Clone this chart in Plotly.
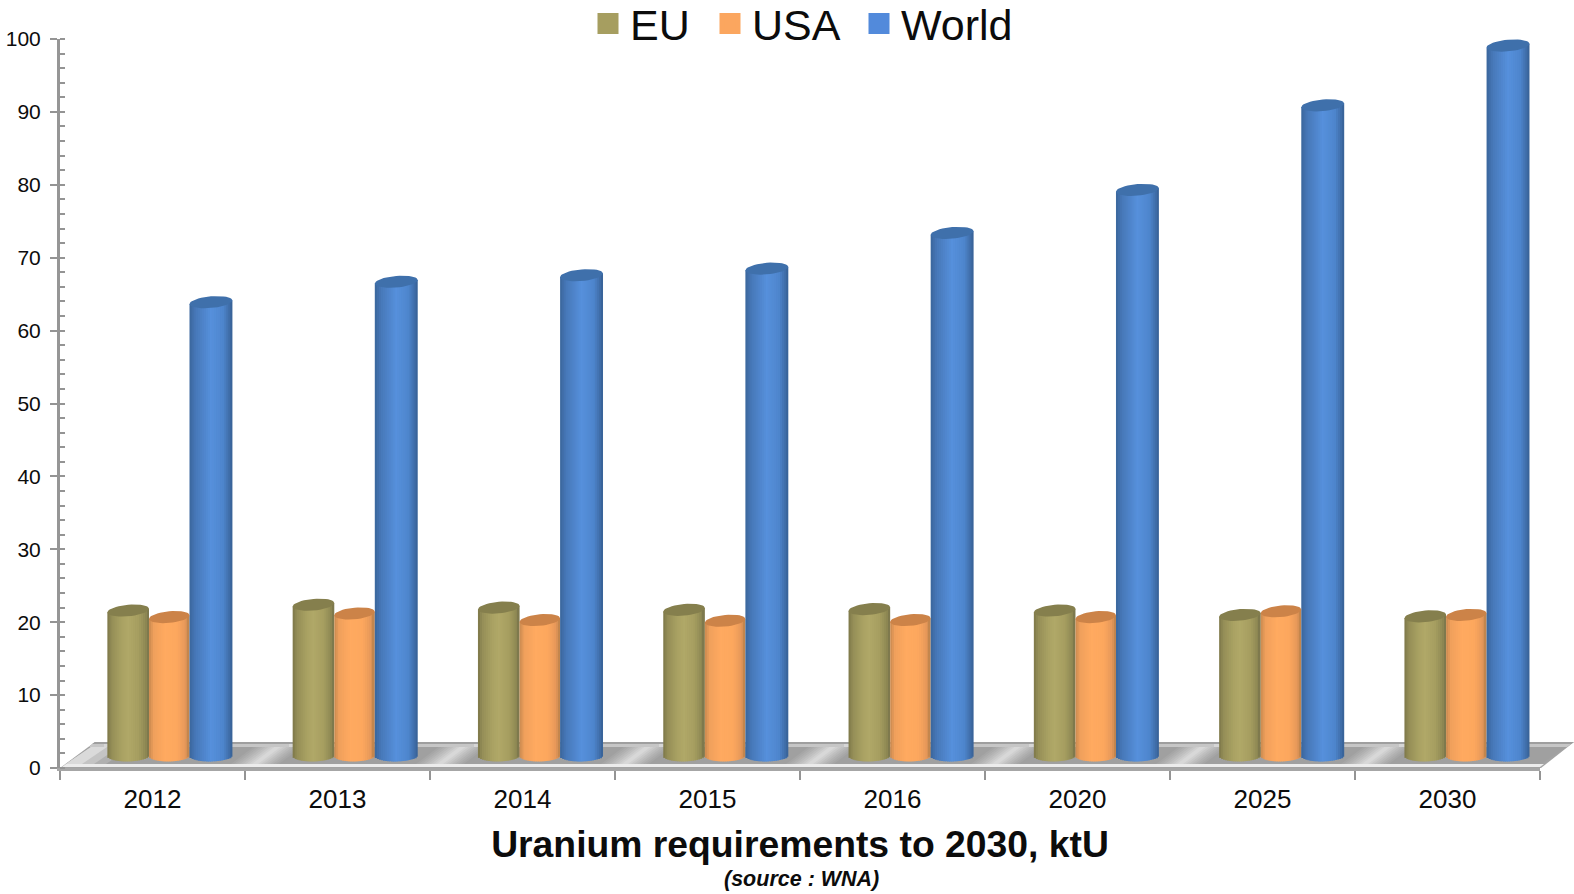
import numpy as np
import plotly.graph_objects as go

# Uranium requirements, ktU
years = ["2012", "2013", "2014", "2015", "2016", "2020", "2025", "2030"]
eu = [21.6, 22.4, 22.0, 21.7, 21.8, 21.6, 21.0, 20.8]
usa = [20.7, 21.2, 20.3, 20.2, 20.3, 20.7, 21.5, 21.0]
world = [63.9, 66.7, 67.6, 68.5, 73.4, 79.3, 90.9, 99.1]

# Plot frame in pixels
FIG_W, FIG_H = 1574, 894
LEFT, RIGHT_EDGE, TOP, ZERO = 60, 1540, 39, 768
PX_X = (RIGHT_EDGE - LEFT) / len(years)
PX_Y = (ZERO - TOP) / 100

FONT = "Liberation Sans"
INK = "#0c0c0c"

# Cylinder styling: gradient stops run from the left edge to the right edge
series = [
    dict(name="EU", values=eu, start=-0.244, width=0.225, legend_color="#a69e60", cap="#857f4d", legend_x=598,
         stops=[(0, "#7c7748"), (.1, "#948d57"), (.35, "#aaa263"), (.5, "#b0a868"), (.75, "#a59d60"),
                (.92, "#8e8853"), (1, "#77724a")]),
    dict(name="USA", values=usa, start=-0.019, width=0.219, legend_color="#fba65f", cap="#cc8348", legend_x=720,
         stops=[(0, "#c98a50"), (.12, "#f0a05c"), (.4, "#ffaa60"), (.7, "#fca75e"), (.9, "#e6985a"),
                (1, "#b98049")]),
    dict(name="World", values=world, start=0.2, width=0.232, legend_color="#528adb", cap="#3f70ab", legend_x=869,
         stops=[(0, "#3a669b"), (.14, "#4778b8"), (.5, "#5690dc"), (.78, "#4e86cd"), (.93, "#3f6da8"),
                (1, "#365f93")]),
]

STRIPS = 21
FLOOR_LEVEL = 1.7      # axis value where the cylinders stand
CAP_MINOR_PX = 5.8     # half height of the elliptical ends
CAP_TILT_PX = 1.8      # rise of the ellipse towards its right end
SPREAD = 1.0016        # cylinders fan out slightly towards the far end


def mix(stops, t):
    pos = [s[0] for s in stops]
    rgb = [[int(s[1][i:i + 2], 16) for i in (1, 3, 5)] for s in stops]
    vals = [float(np.interp(t, pos, [c[k] for c in rgb])) for k in range(3)]
    return "rgb(%d,%d,%d)" % tuple(round(v) for v in vals)


fig = go.Figure()
centers = np.arange(len(years))
bar_x = centers * SPREAD

# Each cylinder body is a stack of narrow bars that carry the horizontal shading
for s in series:
    step = s["width"] / STRIPS
    values = np.array(s["values"])
    for i in range(STRIPS):
        t = (i + 0.5) / STRIPS
        u = 2 * t - 1
        top = values + CAP_TILT_PX * u / PX_Y
        base = FLOOR_LEVEL - (CAP_MINOR_PX * np.sqrt(1 - u * u) - CAP_TILT_PX * u * 0.3) / PX_Y
        seam = step * 0.5 if i < STRIPS - 1 else 0
        fig.add_trace(go.Bar(
            x=bar_x, y=top - base, base=base,
            offset=s["start"] + i * step, width=step + seam,
            marker=dict(color=mix(s["stops"], t), line=dict(width=0)),
            showlegend=False, hoverinfo="skip",
        ))

# Darker elliptical tops
theta = np.linspace(0, 2 * np.pi, 41)
for s in series:
    a = s["width"] / 2
    xs, ys = [], []
    for c, v in zip(bar_x, s["values"]):
        xs += list(c + s["start"] + a + a * np.cos(theta)) + [None]
        ys += list(v + (CAP_MINOR_PX * np.sin(theta) + CAP_TILT_PX * np.cos(theta)) / PX_Y) + [None]
    fig.add_trace(go.Scatter(
        x=xs, y=ys, mode="lines", fill="toself", fillcolor=s["cap"],
        line=dict(width=0, color=s["cap"]), showlegend=False, hoverinfo="skip",
    ))

# One legend per series so that each entry sits at its own position
layout_legends = {}
for k, s in enumerate(series):
    key = "legend" if k == 0 else f"legend{k + 1}"
    fig.add_trace(go.Scatter(
        x=[None], y=[None], mode="markers", name=s["name"], legend=key,
        marker=dict(symbol="square", size=16, color=s["legend_color"],
                    line=dict(width=5, color=s["legend_color"])),
    ))
    layout_legends[key] = dict(
        x=(s["legend_x"] - 12 - LEFT) / (RIGHT_EDGE - LEFT), xanchor="left",
        y=(ZERO + 11) / (ZERO - TOP), yanchor="top",
        orientation="h", bgcolor="rgba(0,0,0,0)", borderwidth=0, itemsizing="trace", itemwidth=34,
        font=dict(family=FONT, size=43, color=INK),
    )


# Floor panel, described in pixels and converted to paper fractions
def px(x, y):
    return (x - LEFT) / (RIGHT_EDGE - LEFT), (ZERO - y) / (ZERO - TOP)


def quad(points, color):
    path = "M" + " L".join("%.5f,%.5f" % px(*p) for p in points) + " Z"
    return dict(type="path", path=path, xref="paper", yref="paper", layer="below",
                fillcolor=color, line=dict(width=0))


def floor_x(front_x, y):
    return front_x + (767 - y) * 33 / 25


shapes = [
    quad([(60, 768), (95, 742), (1574, 742), (1541, 768)], "#a3a3a3"),
    quad([(68, 764), (92, 746), (1568, 746), (1541, 764)], "#a0a0a0"),
    quad([(92, 744), (95, 742), (1574, 742), (1571, 744)], "#9f9f9f"),
    quad([(89, 747), (92, 744), (1571, 744), (1567, 747)], "#c6c6c6"),
    quad([(62, 767), (66, 764), (1544, 764), (1540, 767)], "#ececec"),
]
# Diagonal sheen repeated under every category, with a glint on the back rim
sheen = [(24, "#a6a6a6"), (21, "#acacac"), (18, "#b2b2b2"), (15, "#b9b9b9"),
         (12, "#c0c0c0"), (9, "#c8c8c8"), (6, "#d0d0d0"), (3, "#d8d8d8")]
for c in range(1, len(years)):
    left = LEFT + c * PX_X
    for half, col in sheen:
        x0, x1 = left + 6 - half, left + 6 + half
        shapes.append(quad([(floor_x(x0, 764), 764), (floor_x(x0, 747), 747),
                            (floor_x(x1, 747), 747), (floor_x(x1, 764), 764)], col))
# The front-left corner of the panel catches the light as well
for inset, col in [(40, "#b0b0b0"), (28, "#c4c4c4"), (16, "#dadada")]:
    shapes.append(quad([(66, 764), (91, 747), (91 + inset, 747), (66 + inset, 764)], col))
for c in range(len(years)):
    for half, col in [(26, "#d6d6d6"), (15, "#e6e6e6"), (7, "#f4f4f4")]:
        cx = LEFT + c * PX_X + 70
        shapes.append(quad([(cx - half, 747), (cx - half, 744), (cx + half, 744), (cx + half, 747)], col))

annotations = [dict(
    text="(source : WNA)", xref="paper", yref="paper",
    x=(801 - LEFT) / (RIGHT_EDGE - LEFT), y=(ZERO - 879) / (ZERO - TOP),
    xanchor="center", yanchor="middle", showarrow=False,
    font=dict(family=FONT, size=21.5, color=INK, weight=700, style="italic"),
)]

boundaries = [c - 0.5 for c in range(len(years) + 1)]

fig.update_layout(
    width=FIG_W, height=FIG_H,
    margin=dict(l=LEFT, r=FIG_W - RIGHT_EDGE, t=TOP, b=FIG_H - ZERO, autoexpand=False),
    paper_bgcolor="white", plot_bgcolor="white",
    barmode="overlay",
    shapes=shapes, annotations=annotations,
    xaxis=dict(
        range=[-0.5, len(years) - 0.5], showgrid=False, zeroline=False,
        tickmode="array", tickvals=list(centers), ticktext=years, ticks="",
        ticklabelstandoff=6,
        tickfont=dict(family=FONT, size=26, color=INK),
        showline=True, linecolor="#a6a6a6", linewidth=3,
        minor=dict(tickmode="array", tickvals=boundaries, ticks="outside", ticklen=9,
                   tickwidth=2, tickcolor="#949494", showgrid=False),
        title=dict(text="Uranium requirements to 2030, ktU", standoff=18,
                   font=dict(family=FONT, size=37.3, color=INK, weight=700)),
    ),
    yaxis=dict(
        range=[0, 100], showgrid=False, zeroline=False,
        tickmode="linear", tick0=0, dtick=10, ticks="outside", ticklen=7, tickwidth=2,
        tickcolor="#949494", ticklabelstandoff=5,
        tickfont=dict(family=FONT, size=21, color=INK),
        showline=True, linecolor="#969696", linewidth=3,
        minor=dict(tickmode="linear", tick0=0, dtick=2, ticks="inside", ticklen=5,
                   tickwidth=2, tickcolor="#949494", showgrid=False),
    ),
    **layout_legends,
)

fig.write_html("out.html")
